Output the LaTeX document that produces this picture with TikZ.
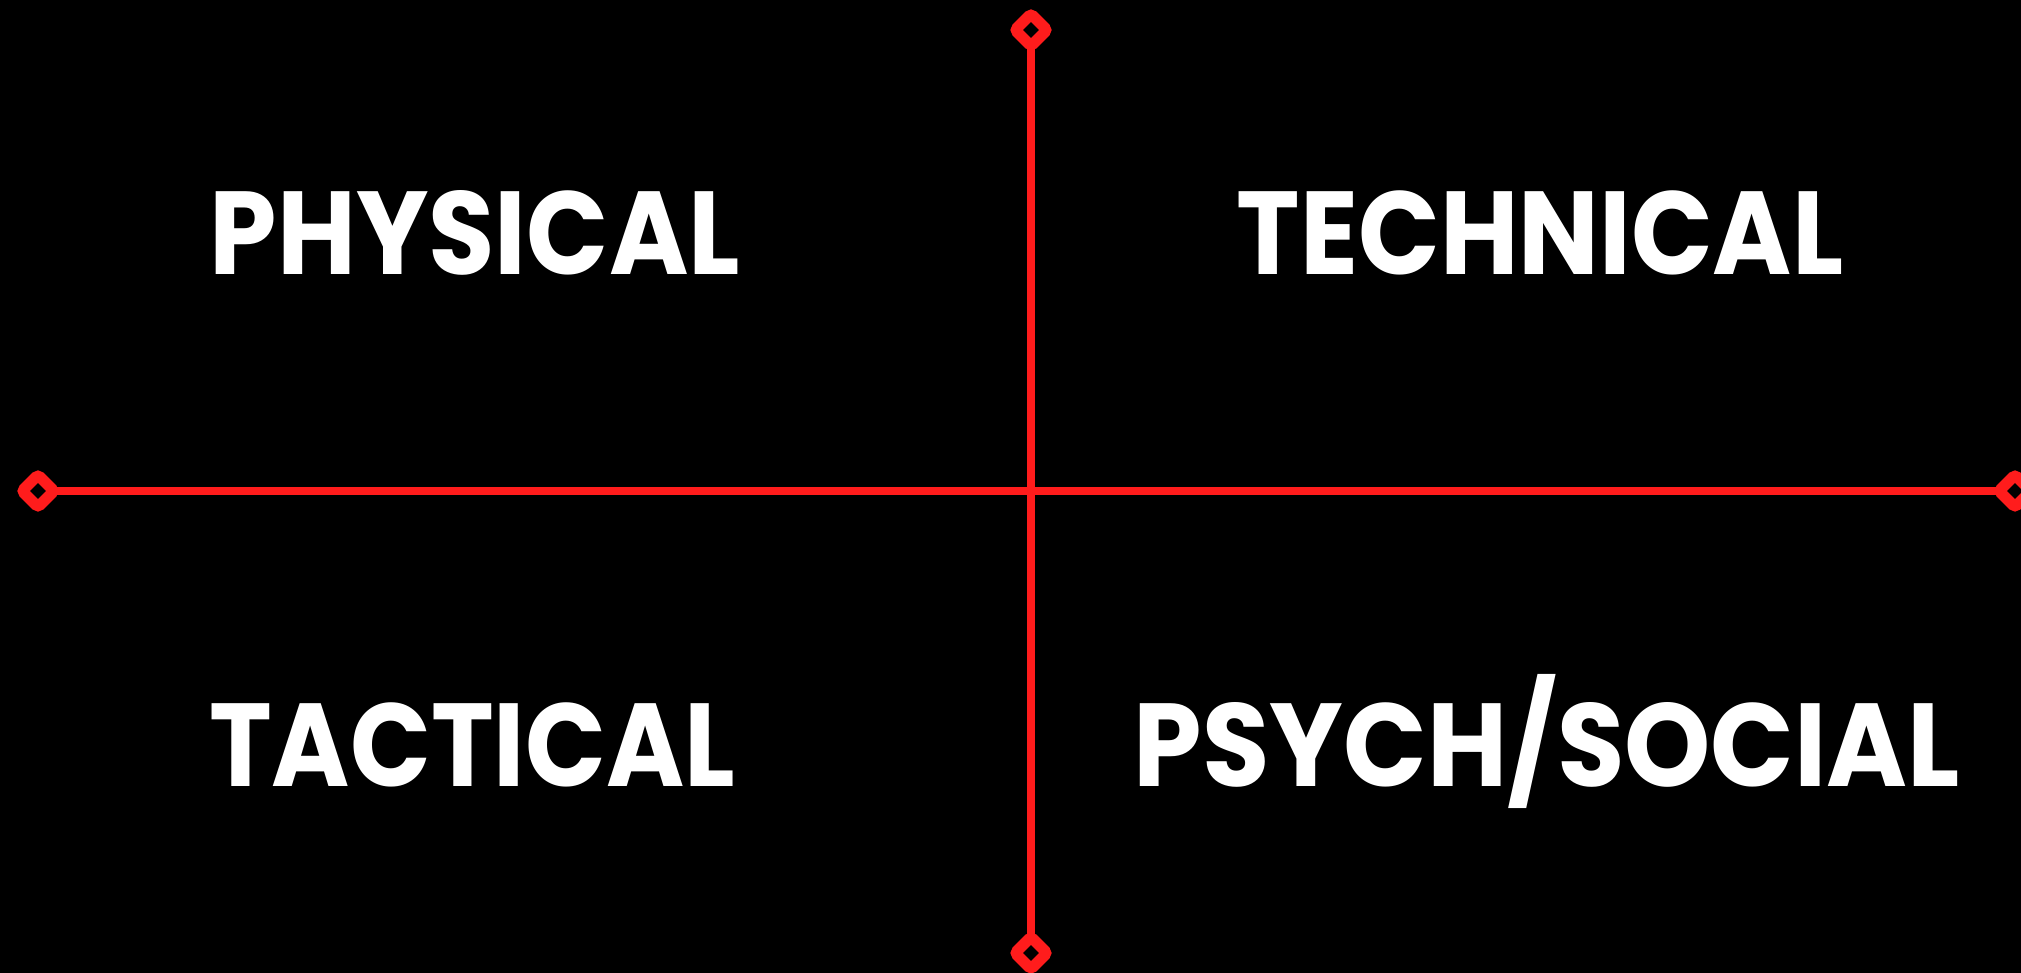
\documentclass[tikz,border=0pt]{standalone}
\usepackage{fontspec}
\setmainfont{Poppins}
\usetikzlibrary{shapes.geometric}
\definecolor{axisred}{RGB}{255,28,28}
\tikzset{
  endmark/.style={diamond, draw=axisred, fill=black, line width=11pt, rounded corners=3pt,
    minimum width=32pt, minimum height=32pt, inner sep=0pt, outer sep=0pt},
  axisline/.style={draw=axisred, line width=8pt},
  quadlabel/.style={text=white, anchor=base, inner sep=0pt, font=\fontsize{118}{118}\selectfont\bfseries}
}
\begin{document}
\begin{tikzpicture}[x=1pt,y=-1pt]
\useasboundingbox (0,0) rectangle (2021,973);
\fill[black] (0,0) rectangle (2021,973);
\node[endmark] (top) at (1031,30) {};
\node[endmark] (bottom) at (1031,953) {};
\node[endmark] (left) at (38,491) {};
\node[endmark] (right) at (2015,491) {};
\draw[axisline] (top) -- (bottom);
\draw[axisline] (left) -- (right);
\node[quadlabel] (physical) at (475,274.5) {\scalebox{0.915}[1]{PHYSICAL}};
\node[quadlabel] (technical) at (1540,274.5) {\scalebox{0.91}[1]{TECHNICAL}};
\node[quadlabel] (tactical) at (472,786) {\scalebox{0.90}[1]{TACTICAL}};
\node[quadlabel] (psych) at (1547,786) {\scalebox{0.93}[1]{PSYCH/SOCIAL}};
\end{tikzpicture}
\end{document}
